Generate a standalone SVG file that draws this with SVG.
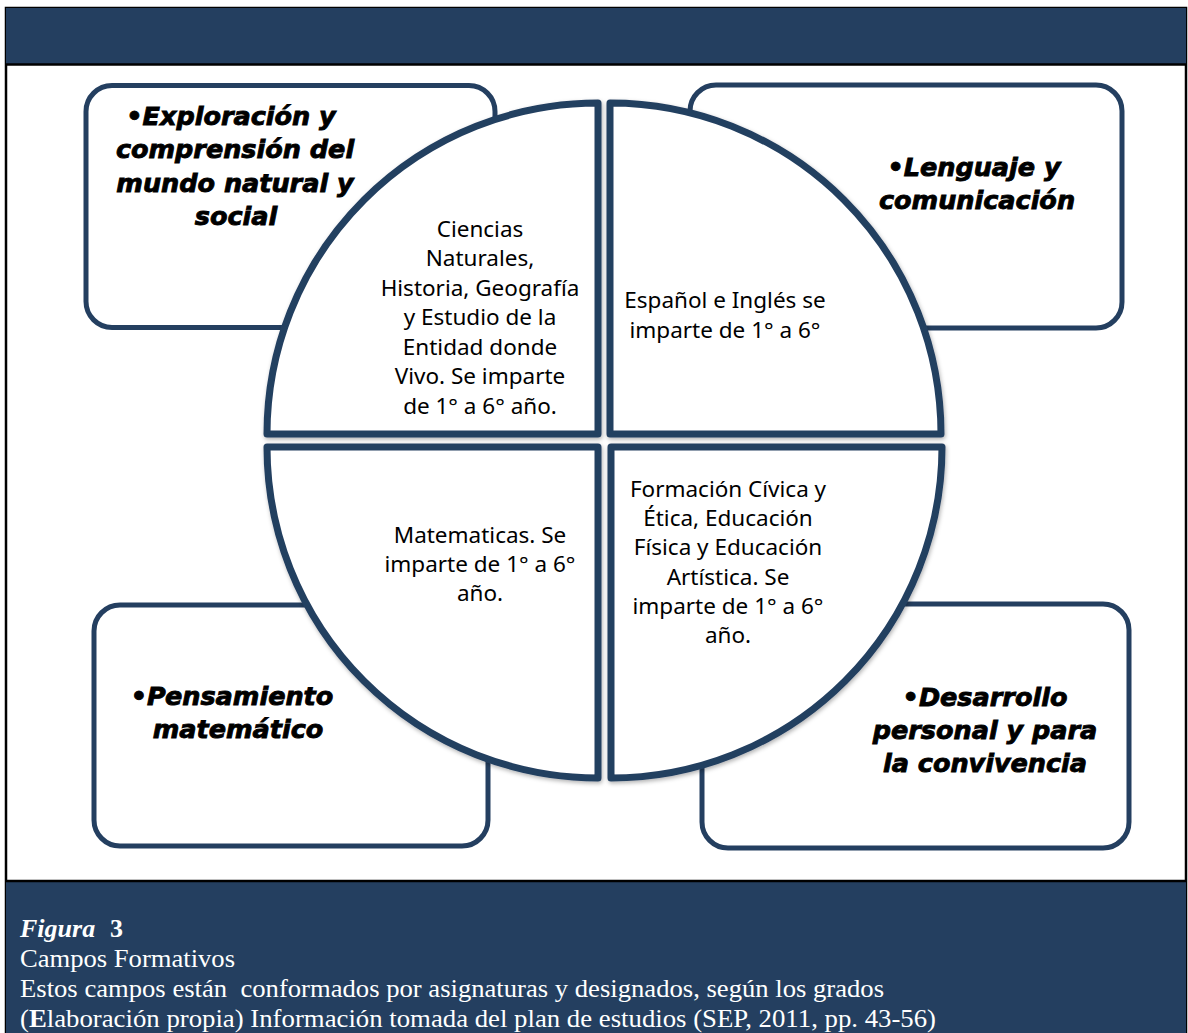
<svg xmlns="http://www.w3.org/2000/svg" width="1188" height="1033" viewBox="0 0 1188 1033">
<style>
.band{fill:#243f60}
.box{fill:#fff;stroke:#243f60;stroke-width:5}
.quad{fill:#fff;stroke:#243f60;stroke-width:7;stroke-linejoin:round}
.title{font-family:"DejaVu Sans","Liberation Sans",sans-serif;font-weight:bold;font-style:italic;font-size:25.5px;fill:#000;stroke:#000;stroke-width:0.9;text-anchor:middle}
.body{font-family:"Noto Sans","Open Sans",sans-serif;font-size:22.5px;fill:#000;text-anchor:middle}
.cap{font-family:"Liberation Serif","Times New Roman",serif;font-size:26px;fill:#fff}
</style>
<defs>
<filter id="sh" x="-10%" y="-10%" width="130%" height="130%">
<feDropShadow dx="1" dy="2" stdDeviation="2" flood-color="#000" flood-opacity="0.3"/>
</filter>
</defs>
<rect x="6" y="8" width="1180" height="1030" fill="#fff" stroke="#000" stroke-width="2.5"/>
<rect class="band" x="6" y="8" width="1180" height="56"/>
<line x1="6" y1="64.5" x2="1186" y2="64.5" stroke="#000" stroke-width="2.5"/>
<rect class="band" x="6" y="881" width="1180" height="152"/>
<line x1="6" y1="881" x2="1186" y2="881" stroke="#000" stroke-width="2.5"/>

<g id="box-exploracion">
<rect class="box" x="86" y="85.5" width="409" height="242" rx="26"/>
<text class="title"><tspan x="231" y="125">•Exploración y</tspan><tspan x="235" y="158">comprensión del</tspan><tspan x="235" y="192">mundo natural y</tspan><tspan x="236" y="225">social</tspan></text>
</g>
<g id="box-lenguaje">
<rect class="box" x="690" y="85" width="432" height="243" rx="26"/>
<text class="title"><tspan x="974" y="176">•Lenguaje y</tspan><tspan x="977" y="209">comunicación</tspan></text>
</g>
<g id="box-pensamiento">
<rect class="box" x="94" y="605" width="394" height="241" rx="26"/>
<text class="title"><tspan x="232" y="705">•Pensamiento</tspan><tspan x="238" y="738">matemático</tspan></text>
</g>
<g id="box-desarrollo">
<rect class="box" x="702" y="604" width="427" height="244" rx="26"/>
<text class="title"><tspan x="985" y="706">•Desarrollo</tspan><tspan x="985" y="739">personal y para</tspan><tspan x="985" y="772">la convivencia</tspan></text>
</g>

<g id="quad-tl">
<path class="quad" filter="url(#sh)" d="M598,434 L267,434 A331,331 0 0 1 598,103 Z"/>
<text class="body"><tspan x="480" y="237">Ciencias</tspan><tspan x="480" y="266">Naturales,</tspan><tspan x="480" y="296">Historia, Geografía</tspan><tspan x="480" y="325">y Estudio de la</tspan><tspan x="480" y="355">Entidad donde</tspan><tspan x="480" y="384">Vivo. Se imparte</tspan><tspan x="480" y="414">de 1° a 6° año.</tspan></text>
</g>
<g id="quad-tr">
<path class="quad" filter="url(#sh)" d="M610,434 L610,103 A331,331 0 0 1 941,434 Z"/>
<text class="body"><tspan x="725" y="308">Español e Inglés se</tspan><tspan x="725" y="338">imparte de 1° a 6°</tspan></text>
</g>
<g id="quad-bl">
<path class="quad" filter="url(#sh)" d="M598,447 L598,778 A331,331 0 0 1 267,447 Z"/>
<text class="body"><tspan x="480" y="543">Matematicas. Se</tspan><tspan x="480" y="572">imparte de 1° a 6°</tspan><tspan x="480" y="601">año.</tspan></text>
</g>
<g id="quad-br">
<path class="quad" filter="url(#sh)" d="M611,447 L942,447 A331,331 0 0 1 611,778 Z"/>
<text class="body"><tspan x="728" y="497">Formación Cívica y</tspan><tspan x="728" y="526">Ética, Educación</tspan><tspan x="728" y="555">Física y Educación</tspan><tspan x="728" y="585">Artística. Se</tspan><tspan x="728" y="614">imparte de 1° a 6°</tspan><tspan x="728" y="643">año.</tspan></text>
</g>

<g id="connectors"></g>

<g id="caption">
<text class="cap" x="20" y="937" font-style="italic" font-weight="bold">Figura</text>
<text class="cap" x="110" y="937" font-weight="bold">3</text>
<text class="cap" x="20" y="967" textLength="215" lengthAdjust="spacingAndGlyphs">Campos Formativos</text>
<text class="cap" x="20" y="997" textLength="864" lengthAdjust="spacingAndGlyphs">Estos campos están&#160; conformados por asignaturas y designados, según los grados</text>
<text class="cap" x="20" y="1027" textLength="916" lengthAdjust="spacingAndGlyphs">(<tspan font-weight="bold">E</tspan>laboración propia) Información tomada del plan de estudios (SEP, 2011, pp. 43-56)</text>
</g>
</svg>
